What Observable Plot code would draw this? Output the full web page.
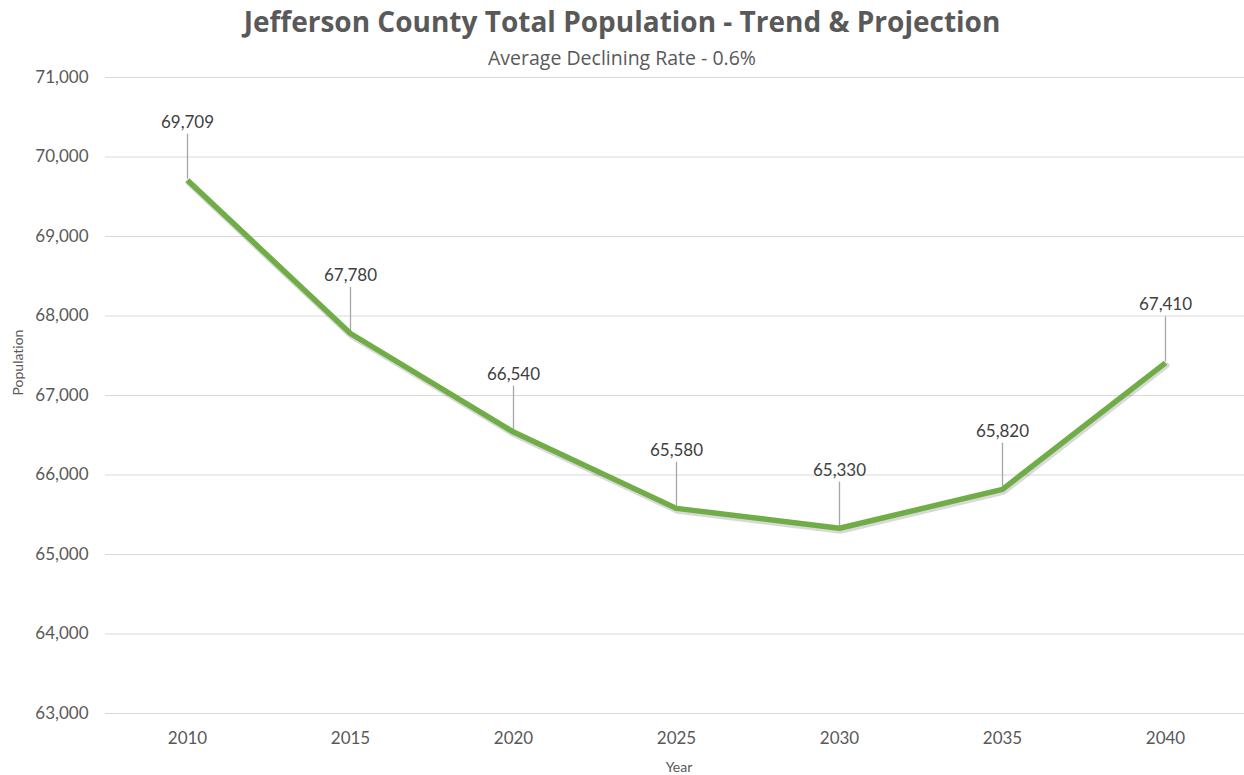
<!DOCTYPE html>
<html>
<head>
<meta charset="utf-8">
<script src="https://cdn.jsdelivr.net/npm/d3@7"></script>
<script src="https://cdn.jsdelivr.net/npm/@observablehq/plot@0.6"></script>
<style>
  body { margin: 0; background: #fff; font-family: "Open Sans", Lato, sans-serif; font-variant-ligatures: none; }
  #wrap { width: 1244px; }
  #head { position: relative; height: 60px; }
  #title { position: absolute; left: 0; width: 1244px; top: 3px; text-align: center;
           font-weight: bold; font-size: 28px; line-height: 36px; color: #595959; }
  #subtitle { position: absolute; left: 0; width: 1244px; top: 46px; text-align: center;
              font-size: 19.5px; line-height: 24px; color: #595959; }
  #chart svg { overflow: visible; font-variant-ligatures: none; }
</style>
</head>
<body>
<div id="wrap">
  <div id="head">
    <div id="title">Jefferson County Total Population - Trend &amp; Projection</div>
    <div id="subtitle">Average Declining Rate - 0.6%</div>
  </div>
  <div id="chart"></div>
</div>
<script>
const years = ["2010", "2015", "2020", "2025", "2030", "2035", "2040"];
const population = [69709, 67780, 66540, 65580, 65330, 65820, 67410];
const yTicks = [63000, 64000, 65000, 66000, 67000, 68000, 69000, 70000, 71000];
const yLabel = "Population";
const xLabel = "Year";

const data = years.map((year, i) => ({year, population: population[i]}));
const fmt = d3.format(",");

const leader = {
  draw(context, l) {
    context.moveTo(0, 0);
    context.lineTo(0, -l);
  }
};

const chart = Plot.plot({
  width: 1244,
  height: 715,
  marginLeft: 105,
  marginRight: 0,
  marginTop: 17,
  marginBottom: 62,
  style: { fontFamily: "Lato, 'Open Sans', sans-serif", background: "#fff" },
  x: { type: "point", domain: years, range: [186, 1166], padding: 0 },
  y: { domain: [63000, 71000] },
  marks: [
    Plot.gridY(yTicks, { stroke: "#D9D9D9", strokeOpacity: 1, strokeWidth: 1.2 }),
    Plot.axisY(yTicks, { tickSize: 0, tickPadding: 17, tickFormat: fmt, fontSize: 17, fill: "#595959", label: null }),
    Plot.axisX({ tickSize: 0, tickPadding: 18, fontSize: 17, fill: "#595959", label: null }),
    Plot.text([yLabel], { frameAnchor: "left", rotate: -90, dx: -87, fontSize: 14, fill: "#595959" }),
    Plot.text([xLabel], { frameAnchor: "bottom", dy: 58, dx: 4, fontSize: 14, fill: "#595959" }),
    Plot.vector(data, { x: "year", y: "population", length: 44, rotate: 0, anchor: "start",
      shape: leader, stroke: "#A6A6A6", strokeWidth: 1.3, dy: -2 }),
    Plot.line(data, { x: "year", y: "population", stroke: "#000", strokeOpacity: 0.15,
      strokeWidth: 6, dx: 1, dy: 2.5, strokeLinejoin: "round" }),
    Plot.line(data, { x: "year", y: "population", stroke: "#70AD47", strokeWidth: 5.5,
      strokeLinejoin: "round", strokeLinecap: "butt" }),
    Plot.text(data, { x: "year", y: "population", text: d => fmt(d.population), dy: -58,
      fontSize: 17, fill: "#404040" })
  ]
});
document.getElementById("chart").appendChild(chart);
</script>
</body>
</html>
